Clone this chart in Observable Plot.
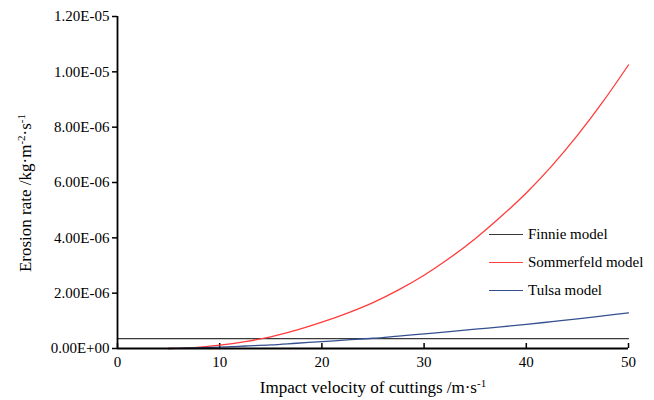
<!DOCTYPE html>
<html><head><meta charset="utf-8">
<script src="https://cdn.jsdelivr.net/npm/d3@7"></script>
<script src="https://cdn.jsdelivr.net/npm/@observablehq/plot@0.6"></script>
<style>
body{margin:0;background:#fff;}
#wrap{position:relative;width:654px;height:400px;font-family:"Liberation Serif",Tinos,"Times New Roman","DejaVu Serif",serif;}
.legend{position:absolute;left:489px;top:220px;font-size:15px;color:#000;}
.row{display:flex;align-items:center;height:28px;}
.sw{width:34px;height:0;border-top:1.4px solid;margin-right:5px;}
</style></head><body><div id="wrap"></div>
<script>
// Impact velocity (m/s)
const velocity = [5, 7.5, 10, 12.5, 15, 17.5, 20, 22.5, 25, 27.5, 30, 32.5, 35, 37.5, 40, 42.5, 45, 47.5, 50];
// Erosion rate (kg·m-2·s-1)
const sommerfeld = [0, 0.03e-6, 0.12e-6, 0.25e-6, 0.42e-6, 0.66e-6, 0.95e-6, 1.28e-6, 1.66e-6, 2.12e-6, 2.65e-6, 3.27e-6, 3.97e-6, 4.76e-6, 5.62e-6, 6.6e-6, 7.7e-6, 8.92e-6, 10.25e-6];
const tulsa = [0, 0.02e-6, 0.05e-6, 0.09e-6, 0.13e-6, 0.19e-6, 0.25e-6, 0.31e-6, 0.37e-6, 0.45e-6, 0.53e-6, 0.61e-6, 0.70e-6, 0.78e-6, 0.87e-6, 0.97e-6, 1.07e-6, 1.18e-6, 1.29e-6];
const finnieVelocity = [0, 50];
const finnie = [0.36e-6, 0.36e-6];
const seriesNames = ["Finnie model", "Sommerfeld model", "Tulsa model"];
const seriesColors = ["#3a3a3a", "#ff3b3b", "#34508f"];
const xTicks = [0, 10, 20, 30, 40, 50];
const yTicks = [0, 2e-6, 4e-6, 6e-6, 8e-6, 10e-6, 12e-6];

const rows = [];
finnieVelocity.forEach((v, i) => rows.push({series: seriesNames[0], v, e: finnie[i]}));
velocity.forEach((v, i) => rows.push({series: seriesNames[1], v, e: sommerfeld[i]}));
velocity.forEach((v, i) => rows.push({series: seriesNames[2], v, e: tulsa[i]}));

const fmt = d => {
  const [m, e] = d.toExponential(2).split("e");
  return m + "E" + e[0] + e.slice(1).padStart(2, "0");
};
const FONT = "'Liberation Serif', Tinos, 'Times New Roman', 'DejaVu Serif', serif";

const chart = Plot.plot({
  width: 654, height: 400,
  marginLeft: 117, marginRight: 26, marginTop: 16, marginBottom: 52,
  style: {fontFamily: FONT, fontSize: "15px", color: "#000", background: "#fff"},
  x: {domain: [0, 50]},
  y: {domain: [0, 1.2e-5]},
  color: {domain: seriesNames, range: seriesColors},
  marks: [
    Plot.axisX(xTicks, {tickSize: -5, tickPadding: 13, label: null, fontSize: 15, strokeWidth: 1.5}),
    Plot.axisY(yTicks, {tickSize: 5, tickPadding: 3, tickFormat: fmt, label: null, fontSize: 15, strokeWidth: 1.5}),
    Plot.line(rows, {x: "v", y: "e", z: "series", stroke: d => d.series, strokeWidth: 1.3, curve: "monotone-x"}),
    Plot.ruleY([0], {stroke: "#000", strokeWidth: 1.8}),
    Plot.ruleX([0], {stroke: "#000", strokeWidth: 1.8})
  ]
});
document.getElementById("wrap").appendChild(chart);

const svg = d3.select(chart);
const yt = svg.append("text")
  .attr("transform", "translate(31,193) rotate(-90)")
  .attr("text-anchor", "middle")
  .style("font-size", "17px").style("font-family", FONT).attr("fill", "#000");
yt.append("tspan").text("Erosion rate /kg·m");
yt.append("tspan").attr("dy", -6).style("font-size", "11px").text("-2");
yt.append("tspan").attr("dy", 6).text("·s");
yt.append("tspan").attr("dy", -6).style("font-size", "11px").text("-1");

const xt = svg.append("text")
  .attr("x", 373).attr("y", 393)
  .attr("text-anchor", "middle")
  .style("font-size", "17px").style("font-family", FONT).attr("fill", "#000");
xt.append("tspan").text("Impact velocity of cuttings /m·s");
xt.append("tspan").attr("dy", -6).style("font-size", "11px").text("-1");

const legend = d3.select("#wrap").append("div").attr("class", "legend");
seriesNames.forEach((n, i) => {
  const r = legend.append("div").attr("class", "row");
  r.append("div").attr("class", "sw").style("border-color", seriesColors[i]);
  r.append("span").text(n);
});
</script></body></html>
